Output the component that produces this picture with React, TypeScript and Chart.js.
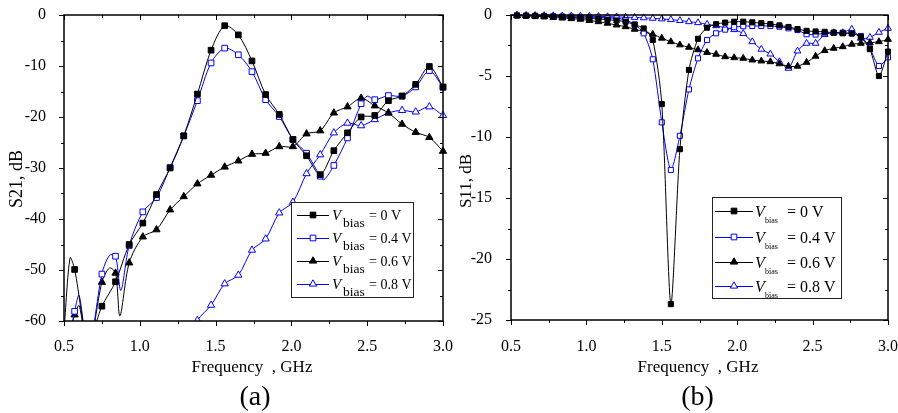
import React, { useEffect, useRef } from 'react';
import { Chart, registerables } from 'chart.js';

Chart.register(...registerables);

const FONT = "'Liberation Serif', 'Times New Roman', Times, serif";
const BLACK = '#000000';
const BLUE = '#0000ff';

// ---------- (a) S21 ----------
const S21_FREQ = [0.57, 0.66, 0.75, 0.84, 0.93, 1.02, 1.11, 1.2, 1.29, 1.38, 1.47, 1.56, 1.65, 1.74, 1.83, 1.92, 2.01, 2.1, 2.19, 2.28, 2.37, 2.46, 2.55, 2.64, 2.73, 2.82, 2.91, 3.0];
const S21_0V = [-49.9, -64, -57.1, -52.3, -45.0, -40.8, -35.2, -30.0, -23.7, -15.5, -6.9, -2.1, -3.9, -9.0, -15.6, -19.5, -24.4, -27.6, -31.3, -26.6, -23.1, -20.0, -19.7, -16.8, -15.9, -13.6, -10.1, -14.1];
const S21_04V = [-58.1, -66, -50.8, -47.3, -45.2, -38.6, -35.8, -29.9, -23.7, -16.8, -9.4, -6.5, -7.8, -11.1, -16.6, -19.9, -24.4, -27.1, -31.6, -29.5, -24.1, -17.4, -16.6, -15.8, -15.9, -14.1, -10.9, -14.2];
const S21_06V = [-58.8, -66, -52.4, -50.6, -48.6, -43.5, -42.1, -38.2, -35.6, -33.1, -31.4, -29.8, -28.6, -27.3, -27.1, -25.8, -25.8, -23.3, -22.7, -19.2, -18.0, -16.3, -17.8, -19.2, -21.4, -23.0, -24.0, -26.7];
const S21_08V = [null, null, null, null, null, null, null, null, -66, -59.9, -56.9, -52.7, -51.0, -46.1, -43.9, -38.8, -36.7, -31.1, -27.4, -23.1, -21.2, -21.7, -20.5, -19.2, -18.7, -19.0, -18.0, -19.7];
// unmarked curve points between markers
const S21_0V_EXTRA_F = [0.5, 0.54];
const S21_0V_EXTRA_V = [-62, -47.6];
const S21_04V_EXTRA_F = [0.54, 0.6, 0.8, 0.875, 2.215, 2.5];
const S21_04V_EXTRA_V = [-63, -55.0, -47.1, -54.0, -32.3, -15.9];
const S21_06V_EXTRA_F = [0.54, 0.6, 0.8, 0.869];
const S21_06V_EXTRA_V = [-62, -57, -49.6, -59.0];
const S21_08V_EXTRA_F: number[] = [];
const S21_08V_EXTRA_V: number[] = [];

// ---------- (b) S11 ----------
const S11_FREQ = [0.54, 0.6, 0.66, 0.72, 0.78, 0.84, 0.9, 0.96, 1.02, 1.08, 1.14, 1.2, 1.26, 1.32, 1.38, 1.44, 1.5, 1.56, 1.62, 1.68, 1.74, 1.8, 1.86, 1.92, 1.98, 2.04, 2.1, 2.16, 2.22, 2.28, 2.34, 2.4, 2.46, 2.52, 2.58, 2.64, 2.7, 2.76, 2.82, 2.88, 2.94, 3.0];
const S11_0V = [-0.05, -0.07, -0.09, -0.11, -0.14, -0.17, -0.2, -0.24, -0.28, -0.33, -0.38, -0.45, -0.55, -0.8, -1.1, -2.05, -7.3, -23.7, -11.0, -4.5, -1.95, -1.04, -0.75, -0.62, -0.55, -0.55, -0.6, -0.67, -0.74, -0.85, -0.98, -1.15, -1.3, -1.35, -1.38, -1.45, -1.5, -1.52, -1.8, -2.8, -5.0, -3.0];
const S11_04V = [-0.03, -0.05, -0.06, -0.08, -0.1, -0.12, -0.14, -0.16, -0.18, -0.2, -0.23, -0.27, -0.41, -0.77, -1.5, -3.63, -8.8, -12.7, -9.9, -6.1, -3.55, -2.05, -1.5, -1.2, -1.0, -0.92, -0.9, -0.9, -0.9, -0.96, -1.09, -1.23, -1.58, -1.6, -1.5, -1.45, -1.45, -1.5, -1.72, -2.73, -4.18, -3.47];
const S11_06V = [-0.05, -0.07, -0.1, -0.14, -0.2, -0.25, -0.3, -0.35, -0.45, -0.55, -0.68, -0.82, -0.96, -1.17, -1.35, -1.58, -1.9, -2.19, -2.45, -2.65, -2.85, -3.07, -3.22, -3.42, -3.5, -3.55, -3.69, -3.77, -3.83, -4.0, -4.2, -4.2, -3.88, -3.38, -2.92, -2.73, -2.6, -2.4, -2.32, -2.27, -2.19, -2.0];
const S11_08V = [-0.02, -0.03, -0.04, -0.05, -0.06, -0.07, -0.08, -0.09, -0.1, -0.12, -0.14, -0.16, -0.18, -0.2, -0.23, -0.27, -0.32, -0.38, -0.45, -0.55, -0.63, -0.76, -0.88, -1.05, -1.2, -1.52, -2.19, -2.81, -3.2, -3.83, -4.37, -2.95, -2.32, -2.32, -1.6, -1.45, -1.45, -1.17, -1.91, -1.83, -1.42, -1.09];
const S11_START_F = [0.5];
const S11_0V_START = [-0.04];
const S11_04V_START = [-0.02];
const S11_06V_START = [-0.04];
const S11_08V_START = [-0.01];

const BIAS_LABELS = ['0', '0.4', '0.6', '0.8'];

type Pt = { x: number; y: number; m: boolean };

function buildPoints(freqs: number[], vals: (number | null)[], exF: number[], exV: number[]): Pt[] {
  const pts: Pt[] = [];
  freqs.forEach((f, i) => {
    const v = vals[i];
    if (v !== null && v !== undefined) pts.push({ x: f, y: v, m: true });
  });
  exF.forEach((f, i) => pts.push({ x: f, y: exV[i], m: false }));
  pts.sort((a, b) => a.x - b.x);
  return pts;
}

const STYLES = [
  { color: BLACK, shape: 'rect', fill: BLACK },
  { color: BLUE, shape: 'rect', fill: '#ffffff' },
  { color: BLACK, shape: 'triangle', fill: BLACK },
  { color: BLUE, shape: 'triangle', fill: '#ffffff' },
];

function makeDataset(pts: Pt[], idx: number, rRect: number, rTri: number, tension: number) {
  const s = STYLES[idx];
  const r = s.shape === 'rect' ? rRect : rTri;
  return {
    data: pts,
    borderColor: s.color,
    borderWidth: 1,
    backgroundColor: s.fill,
    pointStyle: s.shape,
    pointBackgroundColor: s.fill,
    pointBorderColor: s.color,
    pointBorderWidth: 1,
    pointRadius: (c: any) => (c.raw && c.raw.m ? r : 0),
    pointHoverRadius: (c: any) => (c.raw && c.raw.m ? r : 0),
    tension,
    fill: false,
    clip: { left: 0, top: 6, right: 6, bottom: 0 },
  };
}

function drawMarker(ctx: CanvasRenderingContext2D, shape: string, x: number, y: number, r: number, fill: string, stroke: string) {
  ctx.beginPath();
  if (shape === 'rect') {
    const s = Math.SQRT1_2 * r;
    ctx.rect(x - s, y - s, 2 * s, 2 * s);
  } else {
    let rad = 0;
    ctx.moveTo(x + Math.sin(rad) * r, y - Math.cos(rad) * r);
    rad += (2 * Math.PI) / 3;
    ctx.lineTo(x + Math.sin(rad) * r, y - Math.cos(rad) * r);
    rad += (2 * Math.PI) / 3;
    ctx.lineTo(x + Math.sin(rad) * r, y - Math.cos(rad) * r);
    ctx.closePath();
  }
  ctx.fillStyle = fill;
  ctx.fill();
  ctx.strokeStyle = stroke;
  ctx.lineWidth = 1;
  ctx.stroke();
}

function decoPlugin(cfg: any) {
  return {
    id: 'deco',
    afterDatasetsDraw(chart: any) {
      const { ctx, chartArea: a, scales } = chart;
      const x = scales.x;
      const y = scales.y;
      ctx.save();
      ctx.strokeStyle = '#000';
      ctx.lineWidth = 1;
      const seg = (x0: number, y0: number, x1: number, y1: number) => {
        ctx.beginPath();
        ctx.moveTo(x0, y0);
        ctx.lineTo(x1, y1);
        ctx.stroke();
      };
      // x ticks: outside at bottom, inside at top
      const nx = Math.round((x.max - x.min) / cfg.xMinor);
      for (let i = 0; i <= nx; i++) {
        const v = x.min + i * cfg.xMinor;
        const px = Math.round(x.getPixelForValue(v)) + 0.5;
        const q = v / cfg.xMajor;
        const len = Math.abs(q - Math.round(q)) < 1e-6 ? 5 : 3;
        seg(px, a.bottom, px, a.bottom + len);
        seg(px, a.top, px, a.top + len);
      }
      const ny = Math.round((y.max - y.min) / cfg.yMinor);
      for (let i = 0; i <= ny; i++) {
        const v = y.min + i * cfg.yMinor;
        const py = Math.round(y.getPixelForValue(v)) + 0.5;
        const q = v / cfg.yMajor;
        const len = Math.abs(q - Math.round(q)) < 1e-6 ? 5 : 3;
        seg(a.left, py, a.left - len, py);
        seg(a.right, py, a.right - len, py);
      }
      ctx.lineWidth = 1.5;
      ctx.strokeRect(a.left, a.top, a.right - a.left, a.bottom - a.top);

      // legend
      const L = cfg.legend;
      ctx.fillStyle = '#fff';
      ctx.fillRect(L.x, L.y, L.w, L.h);
      ctx.lineWidth = 1;
      ctx.strokeStyle = '#222';
      ctx.strokeRect(L.x + 0.5, L.y + 0.5, L.w, L.h);
      BIAS_LABELS.forEach((lab, i) => {
        const s = STYLES[i];
        const ry = L.rows[i];
        ctx.strokeStyle = s.color;
        ctx.lineWidth = 1;
        seg(L.lineX0, ry + 0.5, L.lineX1, ry + 0.5);
        drawMarker(ctx, s.shape, L.markX, ry, s.shape === 'rect' ? L.rRect : L.rTri, s.fill, s.color);
        ctx.fillStyle = '#000';
        ctx.textAlign = 'left';
        ctx.textBaseline = 'alphabetic';
        ctx.font = `italic ${L.vSize}px ${FONT}`;
        ctx.fillText('V', L.vX, ry + L.vDy);
        ctx.font = `${L.subSize}px ${FONT}`;
        ctx.fillText('bias', L.subX, ry + L.subDy);
        ctx.font = `${L.eqSize}px ${FONT}`;
        ctx.fillText('= ' + lab + ' V', L.eqX, ry + L.vDy);
      });
      ctx.restore();
    },
    afterDraw(chart: any) {
      const { ctx } = chart;
      ctx.save();
      ctx.fillStyle = '#000';
      ctx.textBaseline = 'alphabetic';
      ctx.textAlign = 'center';
      const yt = cfg.yTitle;
      ctx.save();
      ctx.translate(yt.x, yt.y);
      ctx.rotate(-Math.PI / 2);
      ctx.font = `${yt.size}px ${FONT}`;
      ctx.fillText(yt.text, 0, 0);
      ctx.restore();
      const xt = cfg.xTitle;
      ctx.font = `${xt.size}px ${FONT}`;
      ctx.fillText(xt.text, xt.x, xt.y);
      const p = cfg.panel;
      ctx.font = `${p.size}px ${FONT}`;
      ctx.fillText(p.text, p.x, p.y);
      ctx.restore();
    },
  };
}

function makeConfig(opts: any) {
  return {
    type: 'line',
    data: { datasets: opts.datasets },
    options: {
      responsive: false,
      maintainAspectRatio: false,
      animation: false,
      events: [],
      layout: { padding: opts.padding },
      plugins: { legend: { display: false }, tooltip: { enabled: false }, title: { display: false } },
      scales: {
        x: {
          type: 'linear',
          min: opts.xMin,
          max: opts.xMax,
          grid: { display: false },
          border: { display: false },
          ticks: {
            stepSize: opts.xStep,
            color: '#000',
            font: { family: FONT, size: 16 },
            padding: opts.xPad,
            maxRotation: 0,
            autoSkip: false,
            callback: (v: any) => Number(v).toFixed(1),
          },
          afterFit: (s: any) => {
            s.height = opts.xHeight;
            s.paddingLeft = 0;
            s.paddingRight = 0;
          },
        },
        y: {
          type: 'linear',
          min: opts.yMin,
          max: opts.yMax,
          grid: { display: false },
          border: { display: false },
          ticks: {
            stepSize: opts.yStep,
            color: '#000',
            font: { family: FONT, size: 16 },
            padding: opts.yPad,
            callback: (v: any) => String(Math.round(Number(v))),
          },
          afterFit: (s: any) => {
            s.width = opts.yWidth;
            s.paddingTop = 0;
            s.paddingBottom = 0;
          },
        },
      },
    },
    plugins: [decoPlugin(opts.deco)],
  };
}

function buildS21() {
  const ds = [
    makeDataset(buildPoints(S21_FREQ, S21_0V, S21_0V_EXTRA_F, S21_0V_EXTRA_V), 0, 4, 4.2, 0.3),
    makeDataset(buildPoints(S21_FREQ, S21_04V, S21_04V_EXTRA_F, S21_04V_EXTRA_V), 1, 4, 4.2, 0.3),
    makeDataset(buildPoints(S21_FREQ, S21_06V, S21_06V_EXTRA_F, S21_06V_EXTRA_V), 2, 4, 4.2, 0.3),
    makeDataset(buildPoints(S21_FREQ, S21_08V, S21_08V_EXTRA_F, S21_08V_EXTRA_V), 3, 4, 4.2, 0.3),
  ];
  return makeConfig({
    datasets: ds,
    padding: { left: 0, top: 15, right: 17, bottom: 0 },
    xMin: 0.5, xMax: 3.0, xStep: 0.5, xPad: 8, xHeight: 92,
    yMin: -60, yMax: 0, yStep: 10, yPad: 10, yWidth: 64,
    deco: {
      xMinor: 0.25, xMajor: 0.5, yMinor: 5, yMajor: 10,
      legend: {
        x: 291, y: 202, w: 122, h: 95,
        rows: [215, 238, 261, 284],
        lineX0: 297, lineX1: 329, markX: 313, rRect: 4, rTri: 4.2,
        vX: 332, vSize: 15, vDy: 5,
        subX: 343, subSize: 13.5, subDy: 11.5,
        eqX: 369, eqSize: 14,
      },
      yTitle: { text: 'S21, dB', x: 21.5, y: 179, size: 18 },
      xTitle: { text: 'Frequency  , GHz', x: 252, y: 372, size: 17 },
      panel: { text: '(a)', x: 255, y: 405, size: 28 },
    },
  });
}

function buildS11() {
  const ds = [
    makeDataset(buildPoints(S11_FREQ, S11_0V, S11_START_F, S11_0V_START), 0, 3.6, 3.9, 0.25),
    makeDataset(buildPoints(S11_FREQ, S11_04V, S11_START_F, S11_04V_START), 1, 3.6, 3.9, 0.25),
    makeDataset(buildPoints(S11_FREQ, S11_06V, S11_START_F, S11_06V_START), 2, 3.6, 3.9, 0.25),
    makeDataset(buildPoints(S11_FREQ, S11_08V, S11_START_F, S11_08V_START), 3, 3.6, 3.9, 0.25),
  ];
  return makeConfig({
    datasets: ds,
    padding: { left: 0, top: 15, right: 10, bottom: 0 },
    xMin: 0.5, xMax: 3.0, xStep: 0.5, xPad: 9, xHeight: 93,
    yMin: -25, yMax: 0, yStep: 5, yPad: 11, yWidth: 62,
    deco: {
      xMinor: 0.25, xMajor: 0.5, yMinor: 2.5, yMajor: 5,
      legend: {
        x: 263, y: 197, w: 129, h: 101,
        rows: [211, 237, 262, 286],
        lineX0: 266, lineX1: 304, markX: 285, rRect: 4, rTri: 4.2,
        vX: 306, vSize: 16, vDy: 5.5,
        subX: 316, subSize: 8, subDy: 11.5,
        eqX: 338, eqSize: 16,
      },
      yTitle: { text: 'S11, dB', x: 21.5, y: 181, size: 17 },
      xTitle: { text: 'Frequency  , GHz', x: 249, y: 372, size: 17 },
      panel: { text: '(b)', x: 248.5, y: 405, size: 28 },
    },
  });
}

function Panel({ left, width, build }: { left: number; width: number; build: () => any }) {
  const ref = useRef<HTMLCanvasElement | null>(null);
  useEffect(() => {
    if (!ref.current) return;
    const chart = new Chart(ref.current, build());
    return () => chart.destroy();
  }, []);
  return (
    <canvas
      ref={ref}
      width={width}
      height={413}
      style={{ position: 'absolute', left, top: 0, width, height: 413 }}
    />
  );
}

export default function App() {
  return (
    <div style={{ position: 'absolute', left: 0, top: 0, width: 898, height: 413, background: '#fff', overflow: 'hidden' }}>
      <Panel left={0} width={460} build={buildS21} />
      <Panel left={449} width={449} build={buildS11} />
    </div>
  );
}
